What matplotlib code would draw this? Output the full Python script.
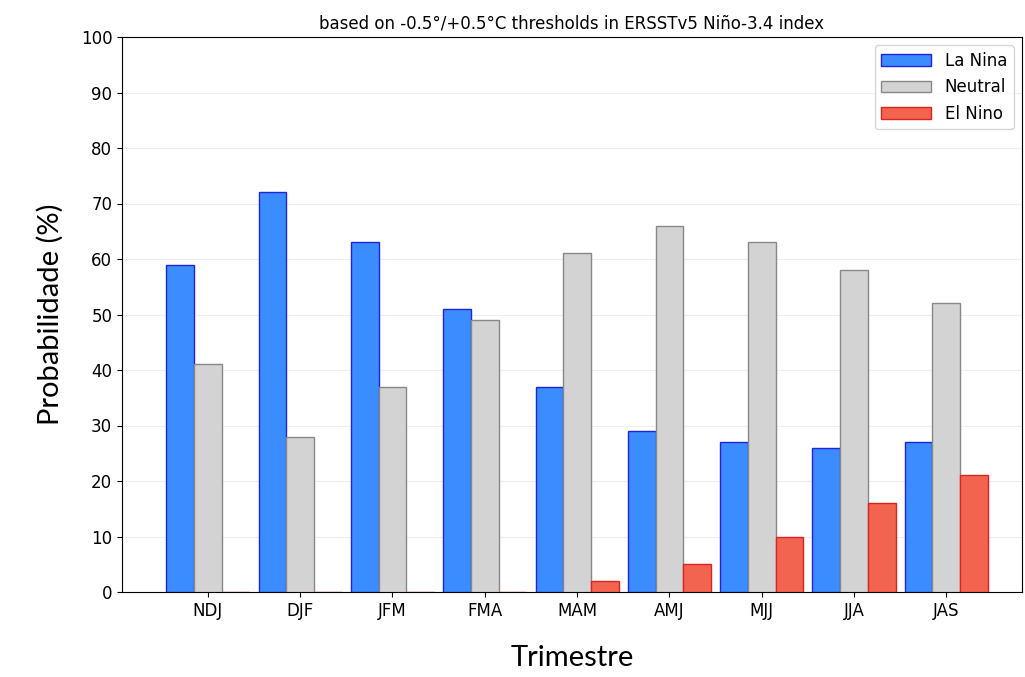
import numpy as np
import matplotlib.pyplot as plt

seasons = ['NDJ', 'DJF', 'JFM', 'FMA', 'MAM', 'AMJ', 'MJJ', 'JJA', 'JAS']
la_nina = [59, 72, 63, 51, 37, 29, 27, 26, 27]
neutral = [41, 28, 37, 49, 61, 66, 63, 58, 52]
el_nino = [0, 0, 0, 0, 2, 5, 10, 16, 21]

fig = plt.figure(figsize=(10.25, 6.77), dpi=100)
ax = fig.add_axes([122/1025, 85/677, 900/1025, 555/677])

x = np.arange(len(seasons))
w = 0.3
ax.bar(x - w, la_nina, w, color='#3a8cff', edgecolor='#2222dd', linewidth=1, label='La Nina', zorder=3)
ax.bar(x, neutral, w, color='#d3d3d3', edgecolor='#888888', linewidth=1, label='Neutral', zorder=3)
ax.bar(x + w, el_nino, w, color='#f26450', edgecolor='#dd2222', linewidth=1, label='El Nino', zorder=3)

ax.set_xlim(-0.93, 8.82)
ax.set_ylim(0, 100)
ax.set_yticks(range(0, 101, 10))
ax.set_xticks(x)
ax.set_xticklabels(seasons)
ax.tick_params(labelsize=12)
ax.yaxis.grid(True, color='#eeeeee', zorder=0)
ax.set_title('based on -0.5\u00b0/+0.5\u00b0C thresholds in ERSSTv5 Ni\u00f1o-3.4 index', fontsize=12, pad=6)
ax.set_ylabel('Probabilidade (%)', fontsize=21, family='Lato', labelpad=12)
ax.set_xlabel('Trimestre', fontsize=21, family='Lato', labelpad=18)
ax.legend(loc='upper right', fontsize=12, handlelength=3)

fig.savefig('out.png', dpi=100)
